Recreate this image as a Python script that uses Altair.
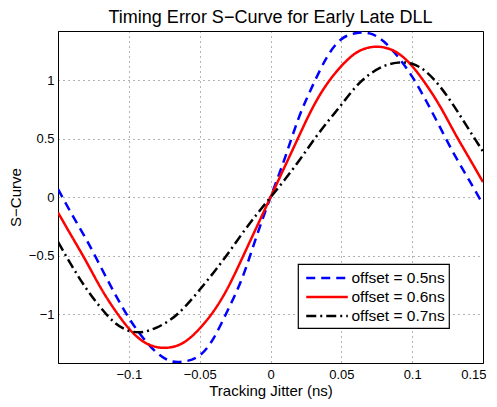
import altair as alt
import pandas as pd

# Tracking jitter grid (ns)
x_ns = [-0.15, -0.14, -0.13, -0.12, -0.11, -0.10, -0.09, -0.08, -0.07, -0.06,
        -0.05, -0.04, -0.03, -0.02, -0.01, 0.0, 0.01, 0.02, 0.03, 0.04,
        0.05, 0.06, 0.07, 0.08, 0.09, 0.10, 0.11, 0.12, 0.13, 0.14, 0.15]

series_names = ["offset = 0.5ns", "offset = 0.6ns", "offset = 0.7ns"]

s_05 = [0.07, -0.15, -0.36, -0.59, -0.82, -1.03, -1.20, -1.33, -1.40, -1.40,
        -1.35, -1.20, -0.96, -0.69, -0.34, 0.0, 0.33, 0.68, 0.96, 1.20,
        1.35, 1.40, 1.40, 1.33, 1.20, 1.03, 0.82, 0.59, 0.36, 0.15, -0.06]

s_06 = [-0.13, -0.34, -0.55, -0.77, -0.96, -1.12, -1.23, -1.28, -1.28, -1.23,
        -1.12, -0.97, -0.77, -0.52, -0.26, 0.0, 0.26, 0.52, 0.77, 0.97,
        1.12, 1.23, 1.28, 1.28, 1.23, 1.12, 0.96, 0.77, 0.55, 0.34, 0.13]

s_07 = [-0.38, -0.59, -0.78, -0.94, -1.07, -1.14, -1.15, -1.11, -1.04, -0.93,
        -0.79, -0.64, -0.48, -0.31, -0.15, 0.0, 0.15, 0.31, 0.48, 0.64,
        0.79, 0.94, 1.05, 1.12, 1.15, 1.14, 1.07, 0.94, 0.77, 0.58, 0.39]

x_ticks = [-0.1, -0.05, 0, 0.05, 0.1, 0.15]
y_ticks = [-1, -0.5, 0, 0.5, 1]

rows = []
for name, vals in zip(series_names, [s_05, s_06, s_07]):
    for xv, yv in zip(x_ns, vals):
        rows.append({"x": xv, "y": yv, "series": name})
df = pd.DataFrame(rows)

FONT = "Liberation Sans"

chart = alt.Chart(df).mark_line(
    strokeWidth=2.5, clip=True, interpolate="natural"
).encode(
    x=alt.X("x:Q",
            scale=alt.Scale(domain=[-0.15, 0.15], nice=False, zero=False),
            axis=alt.Axis(title="Tracking Jitter (ns)", values=x_ticks, format=".2~f",
                          labelFlush=True, labelFlushOffset=3,
                          labelPadding=5, titlePadding=2)),
    y=alt.Y("y:Q",
            scale=alt.Scale(domain=[-1.415, 1.42], nice=False, zero=False),
            axis=alt.Axis(title="S−Curve", values=y_ticks, format=".1~f",
                          labelPadding=4, titlePadding=5)),
    color=alt.Color("series:N",
                    scale=alt.Scale(domain=series_names,
                                    range=["#0000ff", "#ff0000", "#000000"]),
                    legend=alt.Legend(title=None)),
    strokeDash=alt.StrokeDash("series:N",
                              scale=alt.Scale(domain=series_names,
                                              range=[[9, 6], [1, 0], [10, 4, 2, 4]]),
                              legend=alt.Legend(title=None)),
).properties(
    width=425,
    height=332,
    autosize=alt.AutoSizeParams(type="none"),
    padding={"left": 50, "top": 23, "right": 6, "bottom": 36},
    title=alt.TitleParams("Timing Error S−Curve for Early Late DLL", fontSize=18,
                          font=FONT, fontWeight="normal", offset=4, anchor="middle",
                          color="black"),
).configure_view(
    stroke="black", strokeWidth=1
).configure_axis(
    labelFont=FONT, labelFontSize=13, labelColor="black",
    titleFont=FONT, titleFontSize=15, titleFontWeight="normal", titleColor="black",
    domainColor="black", domainWidth=1, ticks=False, tickSize=0,
    grid=True, gridColor="#000000", gridOpacity=0.6, gridDash=[1, 4], gridWidth=1,
).configure_legend(
    orient="none", legendX=240, legendY=233, padding=3.5,
    fillColor="white", strokeColor="black", strokeWidth=1.2,
    symbolType="M-0.64,0H3.98", symbolSize=324, symbolStrokeWidth=2.5,
    labelFont=FONT, labelFontSize=15.5, labelColor="black", labelOffset=29,
    rowPadding=0, cornerRadius=0,
)

chart.save("out.html", embed_options={"renderer": "svg", "actions": False})
